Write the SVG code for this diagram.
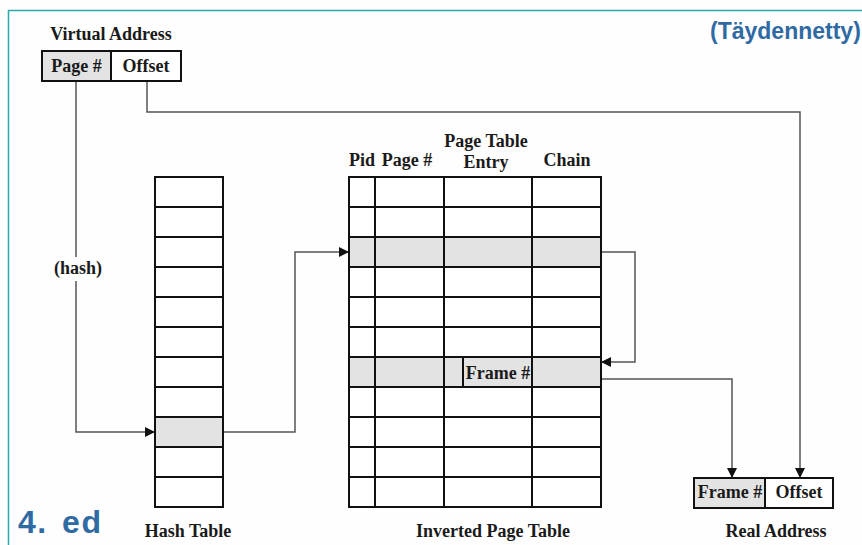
<svg xmlns="http://www.w3.org/2000/svg" width="862" height="545" viewBox="0 0 862 545">
  <defs>
    <marker id="arrow" markerWidth="10" markerHeight="10" refX="9" refY="5" orient="auto" markerUnits="userSpaceOnUse">
      <path d="M0,0 L10,5 L0,10 Z" fill="#111"/>
    </marker>
    <style>
      .lbl { font-family: "Liberation Serif", "Times New Roman", serif; font-weight: bold; font-size: 18px; fill: #1a1a1a; }
      .cell { fill: #fff; stroke: #111; stroke-width: 2; }
      .grey { fill: #e3e3e3; stroke: none; }
      .grid { stroke: #111; stroke-width: 2; fill: none; }
      .conn { stroke: #555; stroke-width: 1.5; fill: none; }
      .blue { font-family: "Liberation Sans", Arial, sans-serif; font-weight: bold; fill: #2f6aa3; }
    </style>
  </defs>

  <rect x="0" y="0" width="862" height="545" fill="#fefefe"/>
  <!-- frame -->
  <path d="M8.5,545 V10.5 H862" fill="none" stroke="#2aaaaa" stroke-width="1.5"/>
  <text class="blue" x="710" y="39" font-size="23">(Täydennetty)</text>
  <text class="blue" x="18" y="533" font-size="32" letter-spacing="1.5" word-spacing="4">4. ed</text>

  <!-- connectors -->
  <g id="connectors">
    <polyline class="conn" points="76,81 76,432 154,432" marker-end="url(#arrow)"/>
    <polyline class="conn" points="147,81 147,112 800,112 800,477" marker-end="url(#arrow)"/>
    <polyline class="conn" points="223,432 295,432 295,252 348,252" marker-end="url(#arrow)"/>
    <polyline class="conn" points="601,252 635,252 635,362 602,362" marker-end="url(#arrow)"/>
    <polyline class="conn" points="532,379 732,379 732,477" marker-end="url(#arrow)"/>
    <rect x="50" y="257" width="56" height="24" fill="#fefefe"/>
    <text class="lbl" x="78" y="274" text-anchor="middle">(hash)</text>
  </g>

  <!-- virtual address -->
  <g id="virtual-address">
    <text class="lbl" x="111" y="40" text-anchor="middle">Virtual Address</text>
    <rect x="42" y="51" width="69" height="30" fill="#e3e3e3" stroke="#111" stroke-width="2"/>
    <rect x="111" y="51" width="70" height="30" class="cell"/>
    <text class="lbl" x="76.5" y="72" text-anchor="middle">Page #</text>
    <text class="lbl" x="146" y="72" text-anchor="middle">Offset</text>
  </g>

  <!-- hash table -->
  <g id="hash-table">
    <rect x="155" y="177" width="68" height="330" fill="#fff"/>
    <rect class="grey" x="155" y="417" width="68" height="30"/>
    <path class="grid" d="M155,177 H223 V507 H155 Z M155,207 H223 M155,237 H223 M155,267 H223 M155,297 H223 M155,327 H223 M155,357 H223 M155,387 H223 M155,417 H223 M155,447 H223 M155,477 H223"/>
    <text class="lbl" x="188" y="537" text-anchor="middle">Hash Table</text>
  </g>

  <!-- inverted page table -->
  <g id="inverted-page-table">
    <text class="lbl" x="362" y="166" text-anchor="middle">Pid</text>
    <text class="lbl" x="407" y="166" text-anchor="middle">Page #</text>
    <text class="lbl" x="486" y="147" text-anchor="middle">Page Table</text>
    <text class="lbl" x="486" y="168" text-anchor="middle">Entry</text>
    <text class="lbl" x="567" y="166" text-anchor="middle">Chain</text>
    <rect x="349" y="177" width="252" height="330" fill="#fff"/>
    <rect class="grey" x="349" y="237" width="252" height="30"/>
    <rect class="grey" x="349" y="357" width="252" height="30"/>
    <path class="grid" d="M349,177 H601 V507 H349 Z M349,207 H601 M349,237 H601 M349,267 H601 M349,297 H601 M349,327 H601 M349,357 H601 M349,387 H601 M349,417 H601 M349,447 H601 M349,477 H601 M375,177 V507 M444,177 V507 M532,177 V507 M463,357 V387"/>
    <text class="lbl" x="498" y="379" text-anchor="middle">Frame #</text>
    <text class="lbl" x="493" y="537" text-anchor="middle">Inverted Page Table</text>
  </g>

  <!-- real address -->
  <g id="real-address">
    <rect x="694" y="478" width="71" height="30" fill="#e3e3e3" stroke="#111" stroke-width="2"/>
    <rect x="765" y="478" width="68" height="30" class="cell"/>
    <text class="lbl" x="730" y="498" text-anchor="middle">Frame #</text>
    <text class="lbl" x="799" y="498" text-anchor="middle">Offset</text>
    <text class="lbl" x="776" y="537" text-anchor="middle">Real Address</text>
  </g>
</svg>
